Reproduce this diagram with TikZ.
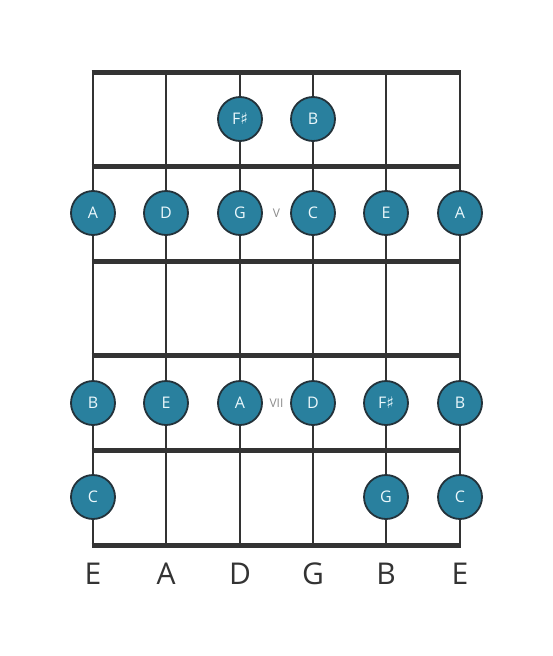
\documentclass[tikz,border=0pt]{standalone}
\usepackage{fontspec}
\setmainfont{Open Sans}
\newfontfamily\symfont{DejaVu Sans}
\definecolor{dotfill}{RGB}{41,128,158}
\definecolor{dotline}{RGB}{35,50,58}
\definecolor{linecol}{RGB}{51,51,51}
\definecolor{fretlbl}{RGB}{140,140,140}
\definecolor{dottext}{RGB}{235,248,252}
\newcommand{\shp}{{\symfont\char"266F}}
\begin{document}
\begin{tikzpicture}[x=1pt,y=-1pt,
  dot/.style={circle,draw=dotline,line width=1.8pt,fill=dotfill,minimum size=44pt,inner sep=0pt,text=dottext,font=\fontsize{16}{16}\selectfont},
  strline/.style={draw=linecol,line width=2.6pt},
  fretline/.style={draw=linecol,line width=5pt},
  strlbl/.style={text=linecol,font=\fontsize{30}{30}\selectfont},
  frlbl/.style={text=fretlbl,font=\fontsize{12}{12}\selectfont}]
\useasboundingbox (0,0) rectangle (553,656);
% strings
\foreach \x [count=\i] in {93,166,240,313,386,460}{
  \coordinate (st\i) at (\x,72);
  \coordinate (sb\i) at (\x,545);
  \draw[strline] (st\i) -- (sb\i);
}
% frets
\foreach \y [count=\j] in {72,166,261,355,450,545}{
  \coordinate (fl\j) at (91.7,\y);
  \coordinate (fr\j) at (461.3,\y);
  \draw[fretline] (fl\j) -- (fr\j);
}
% dots
\node[dot] (n1) at (240,119) {F\shp};
\node[dot] (n2) at (313,119) {B};
\node[dot] (n3) at (93,213) {A};
\node[dot] (n4) at (166,213) {D};
\node[dot] (n5) at (240,213) {G};
\node[dot] (n6) at (313,213) {C};
\node[dot] (n7) at (386,213) {E};
\node[dot] (n8) at (460,213) {A};
\node[dot] (n9) at (93,403) {B};
\node[dot] (n10) at (166,403) {E};
\node[dot] (n11) at (240,403) {A};
\node[dot] (n12) at (313,403) {D};
\node[dot] (n13) at (386,403) {F\shp};
\node[dot] (n14) at (460,403) {B};
\node[dot] (n15) at (93,497) {C};
\node[dot] (n16) at (386,497) {G};
\node[dot] (n17) at (460,497) {C};
% fret labels
\node[frlbl] (fv) at (276.5,213) {V};
\node[frlbl] (fvii) at (276.5,403) {VII};
% string labels
\foreach \x/\t [count=\i] in {93/E,166/A,240/D,313/G,386/B,460/E}{
  \node[strlbl] (sl\i) at (\x,574) {\t};
}
\end{tikzpicture}
\end{document}
